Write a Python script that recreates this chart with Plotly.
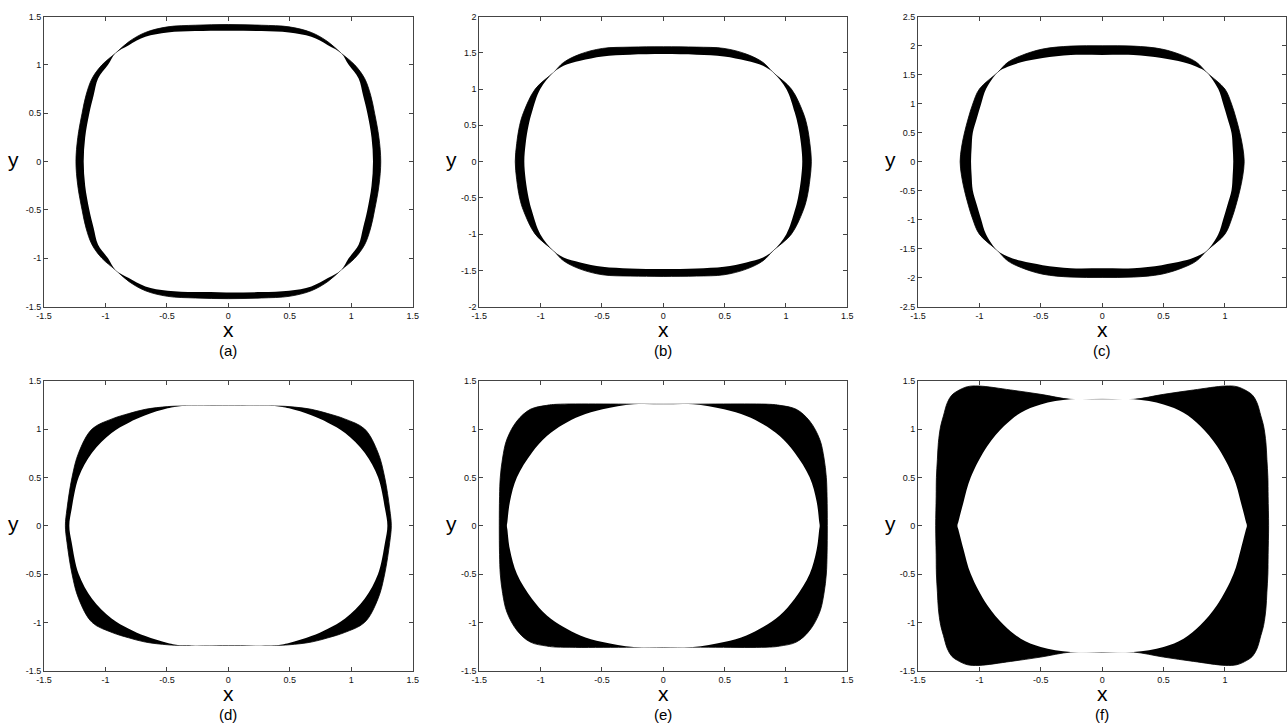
import plotly.graph_objects as go

# ---------------- data (first-quadrant boundary readings, mirrored to full loops) -------------
# Panel (a)
a_outer_x = [1.240, 1.225, 1.190, 1.158, 1.109, 1.028, 0.920, 0.810, 0.675, 0.494, 0.268, 0.000]
a_outer_y = [0.000, 0.250, 0.500, 0.686, 0.859, 1.000, 1.118, 1.239, 1.335, 1.393, 1.410, 1.417]
a_inner_x = [1.177, 1.165, 1.131, 1.096, 1.060, 0.979, 0.920, 0.810, 0.675, 0.494, 0.268, 0.000]
a_inner_y = [0.000, 0.250, 0.500, 0.686, 0.859, 1.000, 1.118, 1.204, 1.290, 1.335, 1.349, 1.352]

# Panel (b)
b_outer_x = [1.207, 1.195, 1.171, 1.139, 1.044, 0.894, 0.813, 0.677, 0.495, 0.270, 0.000]
b_outer_y = [0.000, 0.250, 0.500, 0.679, 1.000, 1.230, 1.367, 1.482, 1.560, 1.578, 1.583]
b_inner_x = [1.133, 1.122, 1.098, 1.071, 1.003, 0.894, 0.813, 0.677, 0.495, 0.270, 0.000]
b_inner_y = [0.000, 0.250, 0.500, 0.679, 1.000, 1.230, 1.322, 1.390, 1.450, 1.473, 1.482]

# Panel (c)
c_outer_x = [1.157, 1.145, 1.122, 1.090, 1.054, 1.000, 0.851, 0.769, 0.661, 0.484, 0.254, 0.000]
c_outer_y = [0.000, 0.250, 0.493, 0.750, 0.992, 1.250, 1.537, 1.710, 1.825, 1.940, 1.990, 1.996]
c_inner_x = [1.068, 1.063, 1.054, 1.020, 0.986, 0.946, 0.851, 0.769, 0.661, 0.484, 0.254, 0.000]
c_inner_y = [0.000, 0.250, 0.493, 0.750, 0.992, 1.250, 1.537, 1.634, 1.710, 1.784, 1.836, 1.836]

# Panel (d)
d_outer_x = [1.326, 1.313, 1.272, 1.218, 1.109, 0.946, 0.810, 0.675, 0.494, 0.377, 0.000]
d_outer_y = [0.000, 0.172, 0.500, 0.755, 1.000, 1.105, 1.160, 1.204, 1.232, 1.238, 1.238]
d_inner_x = [1.294, 1.275, 1.218, 1.109, 0.950, 0.810, 0.675, 0.494, 0.377, 0.000]
d_inner_y = [0.000, 0.172, 0.500, 0.755, 0.960, 1.066, 1.142, 1.214, 1.238, 1.238]

# Panel (e)
e_outer_x = [1.337, 1.335, 1.329, 1.310, 1.275, 1.193, 1.084, 0.950, 0.867, 0.000]
e_outer_y = [0.000, 0.300, 0.500, 0.700, 0.894, 1.083, 1.204, 1.245, 1.256, 1.256]
e_inner_x = [1.275, 1.271, 1.250, 1.193, 1.071, 0.949, 0.813, 0.677, 0.495, 0.242, 0.000]
e_inner_y = [0.000, 0.040, 0.250, 0.500, 0.755, 0.928, 1.049, 1.135, 1.204, 1.256, 1.256]

# Panel (f)
f_outer_x = [1.356, 1.352, 1.350, 1.342, 1.334, 1.315, 1.293, 1.261, 1.225, 1.179, 1.098, 1.003, 0.745, 0.500, 0.255, 0.000]
f_outer_y = [0.000, 0.300, 0.500, 0.687, 0.859, 1.032, 1.135, 1.273, 1.350, 1.393, 1.438, 1.445, 1.404, 1.359, 1.307, 1.307]
f_inner_x = [1.179, 1.171, 1.130, 1.070, 0.935, 0.799, 0.663, 0.500, 0.255, 0.000]
f_inner_y = [0.000, 0.040, 0.240, 0.500, 0.824, 1.031, 1.169, 1.255, 1.307, 1.307]

panel_labels = ["(a)", "(b)", "(c)", "(d)", "(e)", "(f)"]
x_tick_vals = [-1.5, -1.0, -0.5, 0.0, 0.5, 1.0, 1.5]
x_tick_text = ["-1.5", "-1", "-0.5", "0", "0.5", "1", "1.5"]
y_ticks_15 = [-1.5, -1.0, -0.5, 0.0, 0.5, 1.0, 1.5]
y_text_15 = ["-1.5", "-1", "-0.5", "0", "0.5", "1", "1.5"]
y_ticks_20 = [-2.0, -1.5, -1.0, -0.5, 0.0, 0.5, 1.0, 1.5, 2.0]
y_text_20 = ["-2", "-1.5", "-1", "-0.5", "0", "0.5", "1", "1.5", "2"]
y_ticks_25 = [-2.5, -2.0, -1.5, -1.0, -0.5, 0.0, 0.5, 1.0, 1.5, 2.0, 2.5]
y_text_25 = ["-2.5", "-2", "-1.5", "-1", "-0.5", "0", "0.5", "1", "1.5", "2", "2.5"]

# ---------------- helpers ----------------
def mirror_loop(xs, ys):
    q1 = list(zip(xs, ys))
    q2 = [(-x, y) for (x, y) in reversed(q1)][1:]
    q3 = [(-x, -y) for (x, y) in q1][1:]
    q4 = [(x, -y) for (x, y) in reversed(q1)][1:]
    pts = q1 + q2 + q3 + q4
    return [p[0] for p in pts], [p[1] for p in pts]

W, H = 1288, 724
cols = [(44.0, 412.7), (479.3, 847.3), (918.0, 1286.3)]
rows = [(16.5, 306.7), (380.7, 670.7)]
ylab_x = [13, 451, 890]
SMOOTH = 1.0

panels = [
    (a_outer_x, a_outer_y, a_inner_x, a_inner_y, [-1.5, 1.5], y_ticks_15, y_text_15),
    (b_outer_x, b_outer_y, b_inner_x, b_inner_y, [-2.0, 2.0], y_ticks_20, y_text_20),
    (c_outer_x, c_outer_y, c_inner_x, c_inner_y, [-2.5, 2.5], y_ticks_25, y_text_25),
    (d_outer_x, d_outer_y, d_inner_x, d_inner_y, [-1.5, 1.5], y_ticks_15, y_text_15),
    (e_outer_x, e_outer_y, e_inner_x, e_inner_y, [-1.5, 1.5], y_ticks_15, y_text_15),
    (f_outer_x, f_outer_y, f_inner_x, f_inner_y, [-1.5, 1.5], y_ticks_15, y_text_15),
]

fig = go.Figure()
layout = dict(
    width=W, height=H, autosize=False, margin=dict(l=0, r=0, t=0, b=0, pad=0),
    paper_bgcolor="white", plot_bgcolor="white", showlegend=False,
    font=dict(family="Liberation Sans, Arial, sans-serif", color="black"),
)
annotations = []
tickfont = dict(family="Liberation Sans, Arial, sans-serif", size=9, color="#111")

for i, (ox, oy, ix, iy, yr, yt, ytt) in enumerate(panels):
    r, c = divmod(i, 3)
    k = "" if i == 0 else str(i + 1)
    xa, ya = "x" + k, "y" + k
    X0, X1 = cols[c]
    Y0, Y1 = rows[r]
    dx = [X0 / W, X1 / W]
    dy = [1 - Y1 / H, 1 - Y0 / H]
    lx, ly = mirror_loop(ox, oy)
    fig.add_trace(go.Scatter(x=lx, y=ly, mode="lines", fill="toself", fillcolor="black",
                             line=dict(color="black", width=0.8, shape="spline", smoothing=SMOOTH),
                             xaxis=xa, yaxis=ya, hoverinfo="skip"))
    lx, ly = mirror_loop(ix, iy)
    fig.add_trace(go.Scatter(x=lx, y=ly, mode="lines", fill="toself", fillcolor="white",
                             line=dict(color="white", width=0, shape="spline", smoothing=SMOOTH),
                             xaxis=xa, yaxis=ya, hoverinfo="skip"))
    axcommon = dict(showline=True, mirror="ticks", linecolor="#444", linewidth=1,
                    ticks="inside", ticklen=4, tickcolor="#444", tickwidth=1,
                    showgrid=False, zeroline=False, tickfont=tickfont, fixedrange=True,
                    automargin=False)
    layout["xaxis" + k] = dict(domain=dx, range=[-1.5, 1.5], anchor=ya,
                               tickmode="array", tickvals=x_tick_vals, ticktext=x_tick_text,
                               **axcommon)
    layout["yaxis" + k] = dict(domain=dy, range=yr, anchor=xa,
                               tickmode="array", tickvals=yt, ticktext=ytt, **axcommon)
    xc = (X0 + X1) / 2 / W
    base = Y1
    annotations.append(dict(text="x", x=xc, y=1 - (base + 22.5) / H, xref="paper", yref="paper",
                            showarrow=False, font=dict(size=21), xanchor="center", yanchor="middle"))
    annotations.append(dict(text=panel_labels[i], x=xc, y=1 - (base + 44) / H, xref="paper",
                            yref="paper", showarrow=False, font=dict(size=15),
                            xanchor="center", yanchor="middle"))
    annotations.append(dict(text="y", x=ylab_x[c] / W, y=1 - ((Y0 + Y1) / 2 - 2) / H,
                            xref="paper", yref="paper", showarrow=False, font=dict(size=21),
                            xanchor="center", yanchor="middle"))

layout["annotations"] = annotations
fig.update_layout(**layout)

post = ("document.documentElement.style.margin='0';document.documentElement.style.padding='0';"
        "document.documentElement.style.overflow='hidden';"
        "document.body.style.margin='0';document.body.style.padding='0';"
        "document.body.style.overflow='hidden';")
fig.write_html("out.html", config={"responsive": False, "displayModeBar": False},
               post_script=post)
